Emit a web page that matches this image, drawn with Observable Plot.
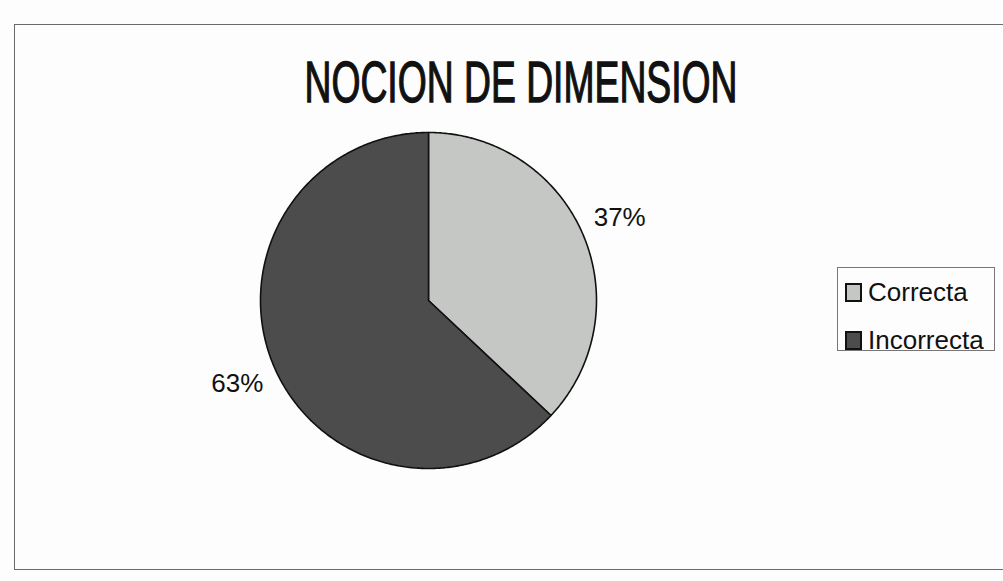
<!DOCTYPE html>
<html>
<head>
<meta charset="utf-8">
<script src="https://cdn.jsdelivr.net/npm/d3@7"></script>
<script src="https://cdn.jsdelivr.net/npm/@observablehq/plot@0.6"></script>
<style>
  html, body { margin: 0; padding: 0; background: #fdfdfd; }
  #wrap { position: relative; width: 1003px; height: 581px; overflow: hidden; background: #fdfdfd; font-family: "Liberation Sans", Arial, sans-serif; }
  #frame { position: absolute; left: 14px; top: 24px; width: 1010px; height: 546px; border: 1.5px solid #6a6a6a; box-sizing: border-box; }
  #chart { position: absolute; left: 0; top: 0; }
  #title { position: absolute; left: 0; top: 0; }
  #legend { position: absolute; left: 837px; top: 267px; width: 158px; height: 84px; border: 1.5px solid #777; box-sizing: border-box; background: #fdfdfd; }
  .item { position: absolute; left: 7px; height: 30px; display: flex; align-items: center; font-size: 26px; color: #111; white-space: nowrap; }
  .sw { flex: 0 0 auto; width: 13px; height: 15px; border: 2px solid #111; margin-right: 6px; }
</style>
</head>
<body>
<div id="wrap">
  <div id="frame"></div>
  <div id="chart"></div>
  <svg id="title" width="1003" height="130"></svg>
  <div id="legend"></div>
</div>
<script>
const titleText = "NOCION DE DIMENSION";
const categories = ["Correcta", "Incorrecta"];
const values = [37, 63];
const labels = ["37%", "63%"];
const colors = ["#c5c7c5", "#4c4c4c"];

// pie geometry from data
const arcs = d3.pie().sort(null)(values);
const slicePts = [];
arcs.forEach((a, i) => {
  const cat = categories[i];
  slicePts.push({cat, x: 0, y: 0});
  const n = Math.max(2, Math.ceil((a.endAngle - a.startAngle) / 0.01));
  for (let k = 0; k <= n; k++) {
    const t = a.startAngle + (a.endAngle - a.startAngle) * k / n;
    slicePts.push({cat, x: Math.sin(t), y: Math.cos(t)});
  }
  slicePts.push({cat, x: 0, y: 0});
});
const labelData = arcs.map((a, i) => {
  const m = (a.startAngle + a.endAngle) / 2;
  return {label: labels[i], x: 1.24 * Math.sin(m), y: 1.24 * Math.cos(m)};
});

const plot = Plot.plot({
  width: 1003,
  height: 581,
  marginLeft: 260,
  marginRight: 407,
  marginTop: 132,
  marginBottom: 113,
  x: {domain: [-1, 1], axis: null},
  y: {domain: [-1, 1], axis: null},
  color: {domain: categories, range: colors},
  style: {background: "transparent", fontFamily: "'Liberation Sans', Arial, sans-serif"},
  marks: [
    Plot.line(slicePts, {x: "x", y: "y", z: "cat", fill: "cat", stroke: "#111", strokeWidth: 1.6, curve: "linear-closed"}),
    Plot.text(labelData, {x: "x", y: "y", text: "label", fontSize: 26, fill: "#111", textAnchor: "middle", lineAnchor: "middle"})
  ]
});
document.getElementById("chart").appendChild(plot);

// title
const svg = d3.select("#title");
svg.append("text")
  .attr("x", 521).attr("y", 102)
  .attr("text-anchor", "middle")
  .attr("font-family", "'Liberation Sans Narrow', 'Arial Narrow', 'Liberation Sans', Arial, sans-serif")
  .attr("font-weight", "normal")
  .attr("font-size", 57)
  .attr("textLength", 433)
  .attr("lengthAdjust", "spacingAndGlyphs")
  .attr("fill", "#111")
  .attr("stroke", "#111")
  .attr("stroke-width", 1.3)
  .text(titleText);

// legend
const legend = d3.select("#legend");
categories.forEach((c, i) => {
  const it = legend.append("div").attr("class", "item").style("top", (i === 0 ? 9 : 57) + "px");
  it.append("div").attr("class", "sw").style("background", colors[i]);
  it.append("span").text(c);
});
</script>
</body>
</html>
